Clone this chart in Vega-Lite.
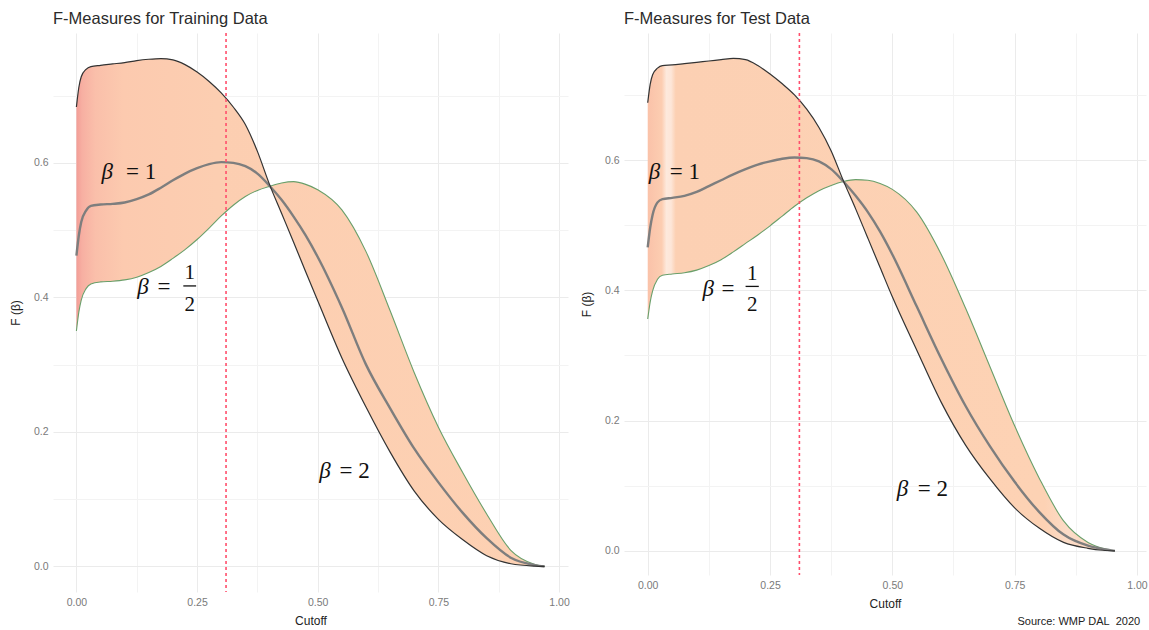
{
  "$schema": "https://vega.github.io/schema/vega-lite/v6.json",
  "padding": {"left": 9, "top": 11, "right": 0, "bottom": 0},
  "spacing": 10,
  "config": {
    "view": {"stroke": null},
    "font": "Liberation Sans",
    "axis": {"domain": false, "ticks": false, "labelColor": "#7a7a7a", "labelFontSize": 10.5, "titleFontSize": 12, "titleFontWeight": "normal", "titleColor": "#222222", "labelPadding": 5, "labelOverlap": false, "labelBound": false},
    "axisX": {"titlePadding": 8},
    "axisY": {"titlePadding": 11},
    "title": {"fontSize": 16.5, "fontWeight": "normal", "color": "#2b2b2b", "anchor": "start", "frame": "group", "offset": 4.5}
  },
  "title": {"text": "Source: WMP DAL\u00a0 2020", "orient": "bottom", "anchor": "end", "frame": "bounds", "fontSize": 11, "color": "#222222", "offset": -11, "dx": -7},
  "datasets": {
    "train": [
      {"cutoff": 0, "f2": 0.683, "f1": 0.462, "f05": 0.350},
      {"cutoff": 0.005, "f2": 0.712, "f1": 0.492, "f05": 0.378},
      {"cutoff": 0.01, "f2": 0.728, "f1": 0.512, "f05": 0.396},
      {"cutoff": 0.02, "f2": 0.739, "f1": 0.529, "f05": 0.413},
      {"cutoff": 0.03, "f2": 0.743, "f1": 0.536, "f05": 0.420},
      {"cutoff": 0.05, "f2": 0.745, "f1": 0.538, "f05": 0.423},
      {"cutoff": 0.075, "f2": 0.747, "f1": 0.539, "f05": 0.424},
      {"cutoff": 0.1, "f2": 0.749, "f1": 0.541, "f05": 0.426},
      {"cutoff": 0.125, "f2": 0.752, "f1": 0.546, "f05": 0.430},
      {"cutoff": 0.15, "f2": 0.754, "f1": 0.553, "f05": 0.437},
      {"cutoff": 0.175, "f2": 0.755, "f1": 0.563, "f05": 0.446},
      {"cutoff": 0.2, "f2": 0.753, "f1": 0.574, "f05": 0.458},
      {"cutoff": 0.225, "f2": 0.746, "f1": 0.584, "f05": 0.471},
      {"cutoff": 0.25, "f2": 0.735, "f1": 0.592, "f05": 0.486},
      {"cutoff": 0.275, "f2": 0.721, "f1": 0.598, "f05": 0.503},
      {"cutoff": 0.3, "f2": 0.704, "f1": 0.601, "f05": 0.521},
      {"cutoff": 0.325, "f2": 0.683, "f1": 0.600, "f05": 0.537},
      {"cutoff": 0.35, "f2": 0.657, "f1": 0.595, "f05": 0.550},
      {"cutoff": 0.375, "f2": 0.617, "f1": 0.584, "f05": 0.559},
      {"cutoff": 0.4, "f2": 0.568, "f1": 0.566, "f05": 0.565},
      {"cutoff": 0.425, "f2": 0.525, "f1": 0.545, "f05": 0.570},
      {"cutoff": 0.45, "f2": 0.482, "f1": 0.520, "f05": 0.572},
      {"cutoff": 0.475, "f2": 0.438, "f1": 0.492, "f05": 0.568},
      {"cutoff": 0.5, "f2": 0.395, "f1": 0.460, "f05": 0.560},
      {"cutoff": 0.55, "f2": 0.310, "f1": 0.385, "f05": 0.530},
      {"cutoff": 0.6, "f2": 0.237, "f1": 0.300, "f05": 0.468},
      {"cutoff": 0.65, "f2": 0.170, "f1": 0.235, "f05": 0.380},
      {"cutoff": 0.7, "f2": 0.112, "f1": 0.175, "f05": 0.288},
      {"cutoff": 0.75, "f2": 0.070, "f1": 0.125, "f05": 0.207},
      {"cutoff": 0.8, "f2": 0.040, "f1": 0.080, "f05": 0.140},
      {"cutoff": 0.85, "f2": 0.016, "f1": 0.042, "f05": 0.078},
      {"cutoff": 0.9, "f2": 0.004, "f1": 0.013, "f05": 0.024},
      {"cutoff": 0.95, "f2": 0.0005, "f1": 0.002, "f05": 0.003},
      {"cutoff": 0.97, "f2": 0, "f1": 0, "f05": 0}
    ],
    "test": [
      {"cutoff": 0, "f2": 0.688, "f1": 0.466, "f05": 0.356},
      {"cutoff": 0.005, "f2": 0.716, "f1": 0.496, "f05": 0.382},
      {"cutoff": 0.01, "f2": 0.731, "f1": 0.516, "f05": 0.399},
      {"cutoff": 0.02, "f2": 0.741, "f1": 0.535, "f05": 0.417},
      {"cutoff": 0.03, "f2": 0.745, "f1": 0.540, "f05": 0.423},
      {"cutoff": 0.05, "f2": 0.746, "f1": 0.542, "f05": 0.425},
      {"cutoff": 0.075, "f2": 0.748, "f1": 0.545, "f05": 0.427},
      {"cutoff": 0.1, "f2": 0.750, "f1": 0.551, "f05": 0.431},
      {"cutoff": 0.125, "f2": 0.752, "f1": 0.560, "f05": 0.438},
      {"cutoff": 0.15, "f2": 0.754, "f1": 0.569, "f05": 0.447},
      {"cutoff": 0.175, "f2": 0.756, "f1": 0.578, "f05": 0.459},
      {"cutoff": 0.2, "f2": 0.754, "f1": 0.586, "f05": 0.472},
      {"cutoff": 0.225, "f2": 0.745, "f1": 0.593, "f05": 0.485},
      {"cutoff": 0.25, "f2": 0.732, "f1": 0.598, "f05": 0.499},
      {"cutoff": 0.275, "f2": 0.717, "f1": 0.602, "f05": 0.514},
      {"cutoff": 0.3, "f2": 0.700, "f1": 0.604, "f05": 0.529},
      {"cutoff": 0.325, "f2": 0.678, "f1": 0.603, "f05": 0.542},
      {"cutoff": 0.35, "f2": 0.650, "f1": 0.598, "f05": 0.553},
      {"cutoff": 0.375, "f2": 0.614, "f1": 0.586, "f05": 0.561},
      {"cutoff": 0.4, "f2": 0.568, "f1": 0.567, "f05": 0.567},
      {"cutoff": 0.425, "f2": 0.525, "f1": 0.545, "f05": 0.570},
      {"cutoff": 0.45, "f2": 0.480, "f1": 0.520, "f05": 0.569},
      {"cutoff": 0.475, "f2": 0.435, "f1": 0.490, "f05": 0.564},
      {"cutoff": 0.5, "f2": 0.390, "f1": 0.455, "f05": 0.555},
      {"cutoff": 0.55, "f2": 0.308, "f1": 0.375, "f05": 0.520},
      {"cutoff": 0.6, "f2": 0.228, "f1": 0.295, "f05": 0.455},
      {"cutoff": 0.65, "f2": 0.162, "f1": 0.222, "f05": 0.372},
      {"cutoff": 0.7, "f2": 0.110, "f1": 0.160, "f05": 0.282},
      {"cutoff": 0.75, "f2": 0.066, "f1": 0.106, "f05": 0.192},
      {"cutoff": 0.8, "f2": 0.035, "f1": 0.060, "f05": 0.112},
      {"cutoff": 0.85, "f2": 0.013, "f1": 0.025, "f05": 0.046},
      {"cutoff": 0.9, "f2": 0.004, "f1": 0.008, "f05": 0.013},
      {"cutoff": 0.93, "f2": 0.001, "f1": 0.003, "f05": 0.004},
      {"cutoff": 0.955, "f2": 0, "f1": 0, "f05": 0}
    ],
    "cut": [{"cut": 0.31}],
    "notes": [
      {"panel": "train", "kind": "beta", "t": "β", "nx": 0.052, "ny": 0.576},
      {"panel": "train", "kind": "rest", "t": "= 1", "nx": 0.103, "ny": 0.576},
      {"panel": "train", "kind": "beta", "t": "β", "nx": 0.126, "ny": 0.405},
      {"panel": "train", "kind": "rest", "t": "=", "nx": 0.168, "ny": 0.405},
      {"panel": "train", "kind": "num", "t": "1", "nx": 0.235, "ny": 0.427},
      {"panel": "train", "kind": "num", "t": "2", "nx": 0.235, "ny": 0.379},
      {"panel": "train", "kind": "bar", "nx": 0.2215, "nx2": 0.248, "ny": 0.417},
      {"panel": "train", "kind": "beta", "t": "β", "nx": 0.503, "ny": 0.132},
      {"panel": "train", "kind": "rest", "t": "=\u00a02", "nx": 0.545, "ny": 0.132},
      {"panel": "test", "kind": "beta", "t": "β", "nx": 0.002, "ny": 0.571},
      {"panel": "test", "kind": "rest", "t": "= 1", "nx": 0.045, "ny": 0.571},
      {"panel": "test", "kind": "beta", "t": "β", "nx": 0.112, "ny": 0.391},
      {"panel": "test", "kind": "rest", "t": "=", "nx": 0.151, "ny": 0.391},
      {"panel": "test", "kind": "num", "t": "1", "nx": 0.2135, "ny": 0.4155},
      {"panel": "test", "kind": "num", "t": "2", "nx": 0.2135, "ny": 0.368},
      {"panel": "test", "kind": "bar", "nx": 0.200, "nx2": 0.227, "ny": 0.406},
      {"panel": "test", "kind": "beta", "t": "β", "nx": 0.509, "ny": 0.085},
      {"panel": "test", "kind": "rest", "t": "=\u00a02", "nx": 0.552, "ny": 0.085}
    ]
  },
  "hconcat": [
    {
      "title": "F-Measures for Training Data",
      "width": 515,
      "height": 559,
      "layer": [
        {
          "data": {"name": "train"},
          "mark": {"type": "area", "interpolate": "monotone", "color": {"gradient": "linear", "x1": 0, "x2": 1, "y1": 0, "y2": 0, "stops": [{"offset": 0, "color": "#F39D96"}, {"offset": 0.012, "color": "#F7AFA2"}, {"offset": 0.04, "color": "#FABFAA"}, {"offset": 0.1, "color": "#FCCAAF"}, {"offset": 0.3, "color": "#FCCEB1"}, {"offset": 1, "color": "#FDD1B3"}]}},
          "encoding": {
            "x": {"field": "cutoff", "type": "quantitative", "title": "Cutoff", "scale": {"domain": [-0.0485, 1.0185], "nice": false, "zero": false},
              "axis": {"values": [0, 0.125, 0.25, 0.375, 0.5, 0.625, 0.75, 0.875, 1], "labelExpr": "round(datum.value*8) % 2 == 1 ? '' : format(datum.value, '.2f')", "gridColor": {"condition": {"test": "round(datum.value*8) % 2 == 1", "value": "#F3F3F3"}, "value": "#EBEBEB"}}},
            "y": {"field": "f2", "type": "quantitative", "title": "F (β)", "scale": {"domain": [-0.038, 0.793], "nice": false, "zero": false},
              "axis": {"values": [0, 0.1, 0.2, 0.3, 0.4, 0.5, 0.6, 0.7], "labelExpr": "round(datum.value*10) % 2 == 1 ? '' : format(datum.value, '.1f')", "gridColor": {"condition": {"test": "round(datum.value*10) % 2 == 1", "value": "#F3F3F3"}, "value": "#EBEBEB"}}},
            "y2": {"field": "f05"}
          }
        },
        {
          "data": {"name": "train"},
          "mark": {"type": "line", "interpolate": "monotone", "color": "#6A9F6A", "strokeWidth": 1.1},
          "encoding": {"x": {"field": "cutoff", "type": "quantitative", "title": "Cutoff"}, "y": {"field": "f05", "type": "quantitative", "title": "F (β)"}}
        },
        {
          "data": {"name": "train"},
          "mark": {"type": "line", "interpolate": "monotone", "color": "#7E7E7E", "strokeWidth": 2.4},
          "encoding": {"x": {"field": "cutoff", "type": "quantitative", "title": "Cutoff"}, "y": {"field": "f1", "type": "quantitative", "title": "F (β)"}}
        },
        {
          "data": {"name": "train"},
          "mark": {"type": "line", "interpolate": "monotone", "color": "#333333", "strokeWidth": 1.2},
          "encoding": {"x": {"field": "cutoff", "type": "quantitative", "title": "Cutoff"}, "y": {"field": "f2", "type": "quantitative", "title": "F (β)"}}
        },
        {
          "data": {"name": "cut"},
          "mark": {"type": "rule", "color": "#FF4F6C", "strokeDash": [3, 3], "strokeWidth": 1.6, "opacity": 1},
          "encoding": {"x": {"field": "cut", "type": "quantitative", "title": "Cutoff"}}
        },
        {
          "data": {"name": "notes"},
          "transform": [{"filter": "datum.panel == 'train' && datum.kind == 'beta'"}],
          "mark": {"type": "text", "font": "Liberation Serif", "fontStyle": "italic", "fontSize": 23, "align": "left", "baseline": "alphabetic", "color": "#111111"},
          "encoding": {"x": {"field": "nx", "type": "quantitative", "title": "Cutoff"}, "y": {"field": "ny", "type": "quantitative", "title": "F (β)"}, "text": {"field": "t"}}
        },
        {
          "data": {"name": "notes"},
          "transform": [{"filter": "datum.panel == 'train' && datum.kind == 'rest'"}],
          "mark": {"type": "text", "font": "Liberation Serif", "fontSize": 23, "align": "left", "baseline": "alphabetic", "color": "#111111"},
          "encoding": {"x": {"field": "nx", "type": "quantitative", "title": "Cutoff"}, "y": {"field": "ny", "type": "quantitative", "title": "F (β)"}, "text": {"field": "t"}}
        },
        {
          "data": {"name": "notes"},
          "transform": [{"filter": "datum.panel == 'train' && datum.kind == 'num'"}],
          "mark": {"type": "text", "font": "Liberation Serif", "fontSize": 21, "align": "center", "baseline": "alphabetic", "color": "#111111"},
          "encoding": {"x": {"field": "nx", "type": "quantitative", "title": "Cutoff"}, "y": {"field": "ny", "type": "quantitative", "title": "F (β)"}, "text": {"field": "t"}}
        },
        {
          "data": {"name": "notes"},
          "transform": [{"filter": "datum.panel == 'train' && datum.kind == 'bar'"}],
          "mark": {"type": "rule", "color": "#111111", "strokeWidth": 1.3},
          "encoding": {"x": {"field": "nx", "type": "quantitative", "title": "Cutoff"}, "x2": {"field": "nx2"}, "y": {"field": "ny", "type": "quantitative", "title": "F (β)"}}
        }
      ]
    },
    {
      "title": "F-Measures for Test Data",
      "width": 522,
      "height": 542,
      "layer": [
        {
          "data": {"name": "test"},
          "mark": {"type": "area", "interpolate": "monotone", "color": {"gradient": "linear", "x1": 0, "x2": 1, "y1": 0, "y2": 0, "stops": [{"offset": 0, "color": "#FAC2A9"}, {"offset": 0.03, "color": "#FCCDB1"}, {"offset": 0.04, "color": "#FDE9DC"}, {"offset": 0.05, "color": "#FDE6D8"}, {"offset": 0.06, "color": "#FCD0B3"}, {"offset": 0.85, "color": "#FDD2B4"}, {"offset": 0.9, "color": "#FBDCC8"}, {"offset": 1, "color": "#FDD2B4"}]}},
          "encoding": {
            "x": {"field": "cutoff", "type": "quantitative", "title": "Cutoff", "scale": {"domain": [-0.0485, 1.0185], "nice": false, "zero": false},
              "axis": {"values": [0, 0.125, 0.25, 0.375, 0.5, 0.625, 0.75, 0.875, 1], "labelExpr": "round(datum.value*8) % 2 == 1 ? '' : format(datum.value, '.2f')", "gridColor": {"condition": {"test": "round(datum.value*8) % 2 == 1", "value": "#F3F3F3"}, "value": "#EBEBEB"}}},
            "y": {"field": "f2", "type": "quantitative", "title": "F (β)", "scale": {"domain": [-0.037, 0.795], "nice": false, "zero": false},
              "axis": {"values": [0, 0.1, 0.2, 0.3, 0.4, 0.5, 0.6, 0.7], "labelExpr": "round(datum.value*10) % 2 == 1 ? '' : format(datum.value, '.1f')", "gridColor": {"condition": {"test": "round(datum.value*10) % 2 == 1", "value": "#F3F3F3"}, "value": "#EBEBEB"}}},
            "y2": {"field": "f05"}
          }
        },
        {
          "data": {"name": "test"},
          "mark": {"type": "line", "interpolate": "monotone", "color": "#6A9F6A", "strokeWidth": 1.1},
          "encoding": {"x": {"field": "cutoff", "type": "quantitative", "title": "Cutoff"}, "y": {"field": "f05", "type": "quantitative", "title": "F (β)"}}
        },
        {
          "data": {"name": "test"},
          "mark": {"type": "line", "interpolate": "monotone", "color": "#7E7E7E", "strokeWidth": 2.4},
          "encoding": {"x": {"field": "cutoff", "type": "quantitative", "title": "Cutoff"}, "y": {"field": "f1", "type": "quantitative", "title": "F (β)"}}
        },
        {
          "data": {"name": "test"},
          "mark": {"type": "line", "interpolate": "monotone", "color": "#333333", "strokeWidth": 1.2},
          "encoding": {"x": {"field": "cutoff", "type": "quantitative", "title": "Cutoff"}, "y": {"field": "f2", "type": "quantitative", "title": "F (β)"}}
        },
        {
          "data": {"name": "cut"},
          "mark": {"type": "rule", "color": "#FF4F6C", "strokeDash": [3, 3], "strokeWidth": 1.6, "opacity": 1},
          "encoding": {"x": {"field": "cut", "type": "quantitative", "title": "Cutoff"}}
        },
        {
          "data": {"name": "notes"},
          "transform": [{"filter": "datum.panel == 'test' && datum.kind == 'beta'"}],
          "mark": {"type": "text", "font": "Liberation Serif", "fontStyle": "italic", "fontSize": 23, "align": "left", "baseline": "alphabetic", "color": "#111111"},
          "encoding": {"x": {"field": "nx", "type": "quantitative", "title": "Cutoff"}, "y": {"field": "ny", "type": "quantitative", "title": "F (β)"}, "text": {"field": "t"}}
        },
        {
          "data": {"name": "notes"},
          "transform": [{"filter": "datum.panel == 'test' && datum.kind == 'rest'"}],
          "mark": {"type": "text", "font": "Liberation Serif", "fontSize": 23, "align": "left", "baseline": "alphabetic", "color": "#111111"},
          "encoding": {"x": {"field": "nx", "type": "quantitative", "title": "Cutoff"}, "y": {"field": "ny", "type": "quantitative", "title": "F (β)"}, "text": {"field": "t"}}
        },
        {
          "data": {"name": "notes"},
          "transform": [{"filter": "datum.panel == 'test' && datum.kind == 'num'"}],
          "mark": {"type": "text", "font": "Liberation Serif", "fontSize": 21, "align": "center", "baseline": "alphabetic", "color": "#111111"},
          "encoding": {"x": {"field": "nx", "type": "quantitative", "title": "Cutoff"}, "y": {"field": "ny", "type": "quantitative", "title": "F (β)"}, "text": {"field": "t"}}
        },
        {
          "data": {"name": "notes"},
          "transform": [{"filter": "datum.panel == 'test' && datum.kind == 'bar'"}],
          "mark": {"type": "rule", "color": "#111111", "strokeWidth": 1.3},
          "encoding": {"x": {"field": "nx", "type": "quantitative", "title": "Cutoff"}, "x2": {"field": "nx2"}, "y": {"field": "ny", "type": "quantitative", "title": "F (β)"}}
        }
      ]
    }
  ]
}
